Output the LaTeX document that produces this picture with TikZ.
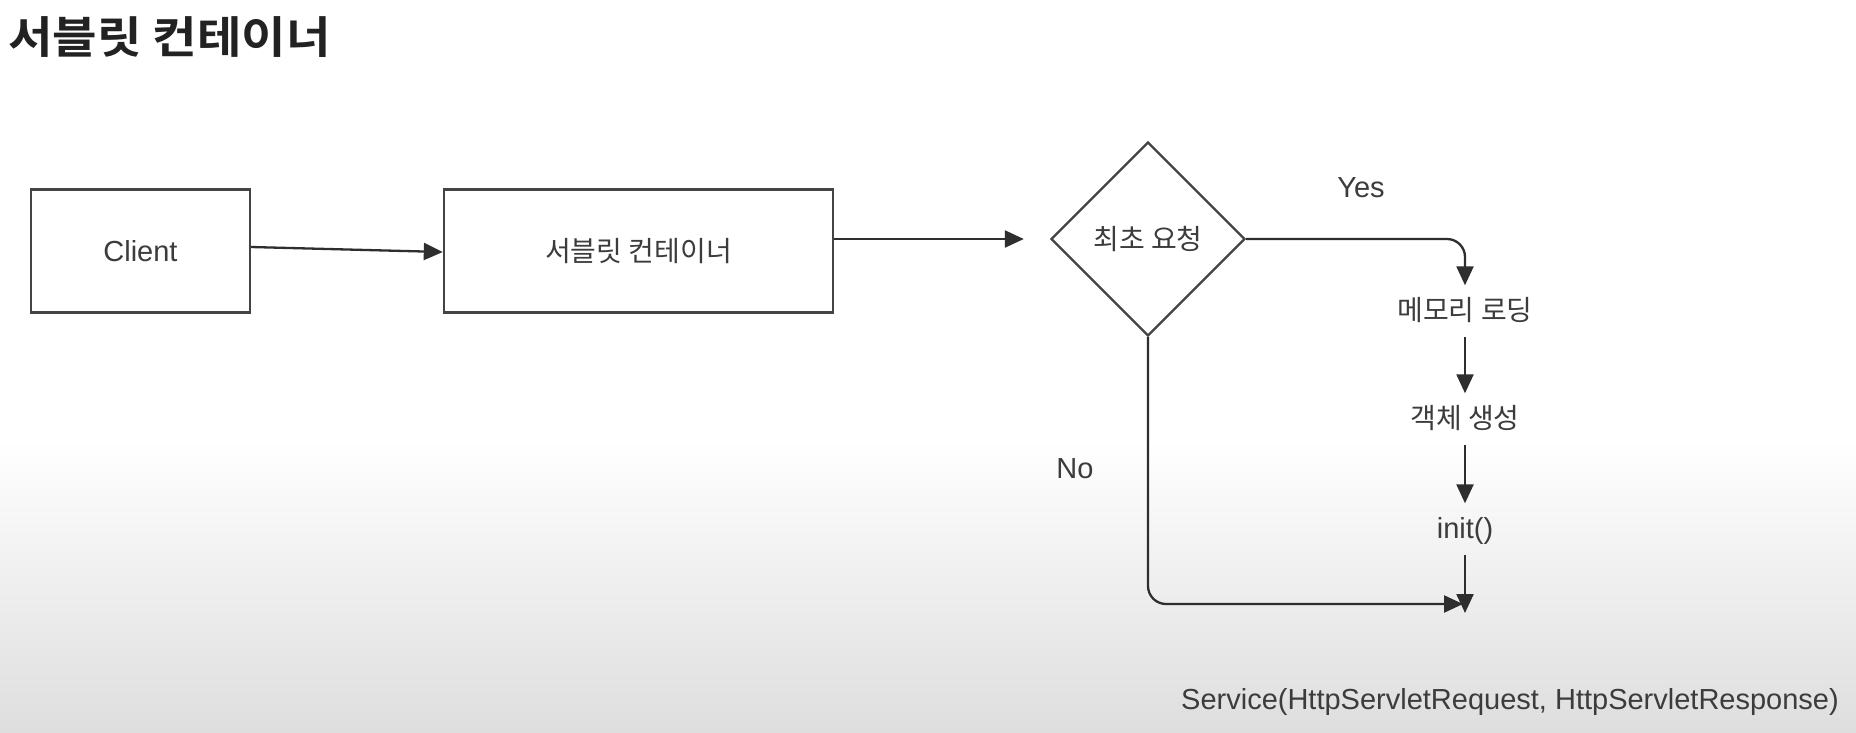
\documentclass[tikz,border=0pt]{standalone}
\usepackage{fontspec}
\setmainfont{Liberation Sans}
\newfontfamily\kr{Noto Sans CJK KR}
\newfontfamily\krbold[FakeStretch=1.1]{Noto Sans CJK KR Bold}
\usetikzlibrary{shapes.geometric,arrows.meta,calc}
\definecolor{linec}{HTML}{2E2E2E}
\definecolor{boxc}{HTML}{444444}
\definecolor{txtc}{HTML}{3C3C3C}
\definecolor{titlec}{HTML}{222222}
\definecolor{bggray}{HTML}{DEDEDE}
\begin{document}
\begin{tikzpicture}[x=1pt,y=-1pt,
  conn/.style={draw=linec, line width=2.3pt},
  arr/.style={conn, -{Triangle[length=19pt,width=17pt]}},
  box/.style={draw=boxc, line width=2.4pt, inner sep=0, minimum height=123pt,
    text=txtc},
  lbl/.style={text=txtc, font=\fontsize{29}{31}\selectfont, inner sep=0},
  krfont/.style={font=\kr\fontsize{28}{30}\selectfont},
  stepnode/.style={text=txtc, inner xsep=2pt, inner ysep=13pt,
    text height=22pt, text depth=3pt}
]
\useasboundingbox (0,0) rectangle (1856,732);
\fill[white] (0,0) rectangle (1856,732);
\shade[top color=white, bottom color=bggray] (0,440) rectangle (1856,732);

% title
\node[anchor=west, inner sep=0, text=titlec, font=\krbold\fontsize{44}{46}\selectfont]
  (title) at (8,37.5) {서블릿 컨테이너};

% boxes
\node[box, minimum width=219pt, font=\fontsize{29}{31}\selectfont] (client) at (140.5,251) {Client};
\node[box, minimum width=389pt, krfont] (container) at (638.5,251) {서블릿 컨테이너};

% decision
\node[draw=boxc, line width=2.4pt, diamond, shape aspect=1, inner sep=0,
  minimum width=194pt, minimum height=194pt, text=txtc, krfont] (decision) at (1148,239) {최초 요청};

% steps
\node[stepnode, krfont] (mem) at (1465,311) {메모리 로딩};
\node[stepnode, krfont] (obj) at (1465,419) {객체 생성};
\node[stepnode, font=\fontsize{29}{31}\selectfont] (init) at (1465,529) {init()};

\coordinate (joinA) at (1463,604);
\coordinate (joinB) at (1465,613);

% labels
\node[lbl] (yes) at (1361,188) {Yes};
\node[lbl] (no) at (1075,469) {No};
\node[lbl] (service) at (1510,702) {Service(HttpServletRequest, HttpServletResponse)};

% connectors
\draw[arr] ($(client.east)+(0,-4)$) -- ($(container.west)+(0,1)$);
\draw[arr] ($(container.east)+(0,-12)$) -- ($(decision.west)+(-26,0)$);
\draw[arr, rounded corners=18pt] (decision.east) -| (mem.north);
\draw[arr] (mem.south) -- (obj.north);
\draw[arr] (obj.south) -- (init.north);
\draw[arr] (init.south) -- (joinB);
\draw[arr, rounded corners=18pt] (decision.south) |- (joinA);
\end{tikzpicture}
\end{document}
